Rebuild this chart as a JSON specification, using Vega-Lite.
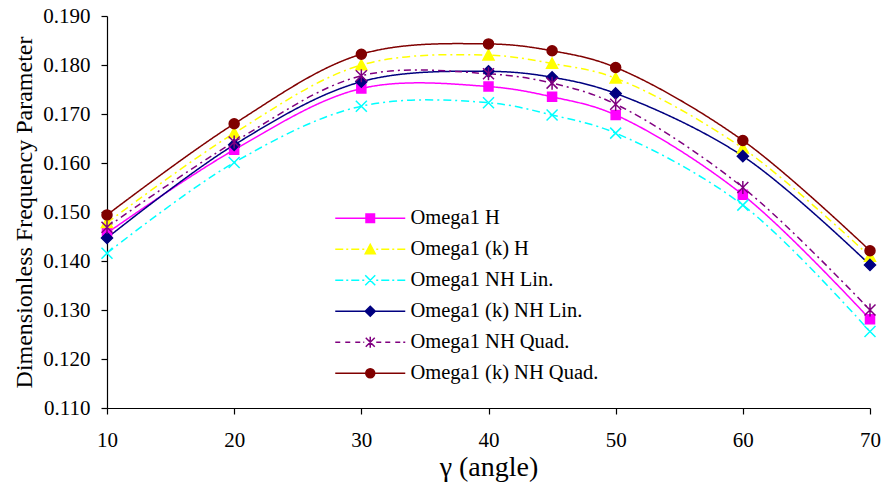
{
  "$schema": "https://vega.github.io/schema/vega-lite/v6.json",
  "width": 763,
  "height": 392,
  "autosize": "none",
  "padding": {"left": 107, "top": 16, "right": 12, "bottom": 85},
  "background": "white",
  "config": {
    "view": {"stroke": null},
    "font": "Liberation Serif",
    "axis": {
      "grid": false,
      "domainColor": "black",
      "tickColor": "black",
      "labelColor": "black",
      "titleColor": "black",
      "labelFont": "Liberation Serif",
      "titleFont": "Liberation Serif",
      "labelFontSize": 21,
      "titleFontWeight": "normal",
      "tickSize": 6,
      "domainWidth": 1.2,
      "tickWidth": 1.2
    }
  },
  "data": {
    "values": [
      {"angle": 10, "series": "Omega1 H", "value": 0.1457},
      {"angle": 20, "series": "Omega1 H", "value": 0.1627},
      {"angle": 30, "series": "Omega1 H", "value": 0.1752},
      {"angle": 40, "series": "Omega1 H", "value": 0.1756},
      {"angle": 45, "series": "Omega1 H", "value": 0.1735},
      {"angle": 50, "series": "Omega1 H", "value": 0.1698},
      {"angle": 60, "series": "Omega1 H", "value": 0.1535},
      {"angle": 70, "series": "Omega1 H", "value": 0.1281},
      {"angle": 10, "series": "Omega1 (k) H", "value": 0.1478},
      {"angle": 20, "series": "Omega1 (k) H", "value": 0.1661},
      {"angle": 30, "series": "Omega1 (k) H", "value": 0.1800},
      {"angle": 40, "series": "Omega1 (k) H", "value": 0.1820},
      {"angle": 45, "series": "Omega1 (k) H", "value": 0.1803},
      {"angle": 50, "series": "Omega1 (k) H", "value": 0.1773},
      {"angle": 60, "series": "Omega1 (k) H", "value": 0.1630},
      {"angle": 70, "series": "Omega1 (k) H", "value": 0.1409},
      {"angle": 10, "series": "Omega1 NH Lin.", "value": 0.1416},
      {"angle": 20, "series": "Omega1 NH Lin.", "value": 0.1601},
      {"angle": 30, "series": "Omega1 NH Lin.", "value": 0.1716},
      {"angle": 40, "series": "Omega1 NH Lin.", "value": 0.1723},
      {"angle": 45, "series": "Omega1 NH Lin.", "value": 0.1698},
      {"angle": 50, "series": "Omega1 NH Lin.", "value": 0.1661},
      {"angle": 60, "series": "Omega1 NH Lin.", "value": 0.1514},
      {"angle": 70, "series": "Omega1 NH Lin.", "value": 0.1256},
      {"angle": 10, "series": "Omega1 (k) NH Lin.", "value": 0.1447},
      {"angle": 20, "series": "Omega1 (k) NH Lin.", "value": 0.1637},
      {"angle": 30, "series": "Omega1 (k) NH Lin.", "value": 0.1766},
      {"angle": 40, "series": "Omega1 (k) NH Lin.", "value": 0.1787},
      {"angle": 45, "series": "Omega1 (k) NH Lin.", "value": 0.1775},
      {"angle": 50, "series": "Omega1 (k) NH Lin.", "value": 0.1742},
      {"angle": 60, "series": "Omega1 (k) NH Lin.", "value": 0.1614},
      {"angle": 70, "series": "Omega1 (k) NH Lin.", "value": 0.1392},
      {"angle": 10, "series": "Omega1 NH Quad.", "value": 0.1469},
      {"angle": 20, "series": "Omega1 NH Quad.", "value": 0.1643},
      {"angle": 30, "series": "Omega1 NH Quad.", "value": 0.1778},
      {"angle": 40, "series": "Omega1 NH Quad.", "value": 0.1782},
      {"angle": 45, "series": "Omega1 NH Quad.", "value": 0.1763},
      {"angle": 50, "series": "Omega1 NH Quad.", "value": 0.1720},
      {"angle": 60, "series": "Omega1 NH Quad.", "value": 0.1550},
      {"angle": 70, "series": "Omega1 NH Quad.", "value": 0.1300},
      {"angle": 10, "series": "Omega1 (k) NH Quad.", "value": 0.1494},
      {"angle": 20, "series": "Omega1 (k) NH Quad.", "value": 0.1680},
      {"angle": 30, "series": "Omega1 (k) NH Quad.", "value": 0.1822},
      {"angle": 40, "series": "Omega1 (k) NH Quad.", "value": 0.1843},
      {"angle": 45, "series": "Omega1 (k) NH Quad.", "value": 0.1829},
      {"angle": 50, "series": "Omega1 (k) NH Quad.", "value": 0.1795},
      {"angle": 60, "series": "Omega1 (k) NH Quad.", "value": 0.1646},
      {"angle": 70, "series": "Omega1 (k) NH Quad.", "value": 0.1421}
    ]
  },
  "encoding": {
    "x": {
      "field": "angle",
      "type": "quantitative",
      "scale": {"domain": [10, 70], "nice": false, "zero": false},
      "axis": {
        "values": [10, 20, 30, 40, 50, 60, 70],
        "title": "γ (angle)",
        "titleFontSize": 28,
        "labelPadding": 15,
        "titlePadding": 3,
        "labelFlush": false
      }
    },
    "y": {
      "field": "value",
      "type": "quantitative",
      "scale": {"domain": [0.11, 0.19], "nice": false, "zero": false},
      "axis": {
        "values": [0.11, 0.12, 0.13, 0.14, 0.15, 0.16, 0.17, 0.18, 0.19],
        "format": ".3f",
        "title": "Dimensionless Frequency Parameter",
        "titleFontSize": 24,
        "labelPadding": 11,
        "titlePadding": 6
      }
    }
  },
  "resolve": {"scale": {"shape": "independent", "fill": "independent", "stroke": "independent"}},
  "layer": [
    {
      "mark": {"type": "line", "interpolate": "catmull-rom", "strokeWidth": 1.5},
      "encoding": {
        "color": {
          "field": "series",
          "type": "nominal",
          "scale": {
            "domain": ["Omega1 H", "Omega1 (k) H", "Omega1 NH Lin.", "Omega1 (k) NH Lin.", "Omega1 NH Quad.", "Omega1 (k) NH Quad."],
            "range": ["#FF00FF", "#FFFF00", "#00FFFF", "#000080", "#800080", "#800000"]
          },
          "legend": null
        },
        "strokeDash": {
          "field": "series",
          "type": "nominal",
          "scale": {
            "domain": ["Omega1 H", "Omega1 (k) H", "Omega1 NH Lin.", "Omega1 (k) NH Lin.", "Omega1 NH Quad.", "Omega1 (k) NH Quad."],
            "range": [[1, 0], [8, 4, 2, 4], [8, 4, 2, 4], [1, 0], [7, 4, 2, 4], [1, 0]]
          },
          "legend": null
        }
      }
    },
    {
      "mark": {"type": "point", "size": 100, "strokeWidth": 1.5, "opacity": 1, "fillOpacity": 1},
      "encoding": {
        "fill": {
          "field": "series",
          "type": "nominal",
          "scale": {
            "domain": ["Omega1 H", "Omega1 (k) H", "Omega1 NH Lin.", "Omega1 (k) NH Lin.", "Omega1 NH Quad.", "Omega1 (k) NH Quad."],
            "range": ["#FF00FF", "#FFFF00", "#00FFFF", "#000080", "#800080", "#800000"]
          },
          "legend": null
        },
        "stroke": {
          "field": "series",
          "type": "nominal",
          "scale": {
            "domain": ["Omega1 H", "Omega1 (k) H", "Omega1 NH Lin.", "Omega1 (k) NH Lin.", "Omega1 NH Quad.", "Omega1 (k) NH Quad."],
            "range": ["#FF00FF", "#FFFF00", "#00FFFF", "#000080", "#800080", "#800000"]
          },
          "legend": null
        },
        "shape": {
          "field": "series",
          "type": "nominal",
          "scale": {
            "domain": ["Omega1 H", "Omega1 (k) H", "Omega1 NH Lin.", "Omega1 (k) NH Lin.", "Omega1 NH Quad.", "Omega1 (k) NH Quad."],
            "range": [
              "M-0.9,-0.9H0.9V0.9H-0.9Z",
              "M0,-1.1L1.1,0.95H-1.1Z",
              "M-1.1,-1.1L1.1,1.1M-1.1,1.1L1.1,-1.1",
              "M0,-1.1L1.1,0L0,1.1L-1.1,0Z",
              "M-1.1,-1.1L1.1,1.1M-1.1,1.1L1.1,-1.1M0,-1.3V1.3",
              "circle"
            ]
          },
          "legend": null
        }
      }
    },
    {
      "transform": [{"filter": "datum.angle > 1000"}],
      "mark": {"type": "point", "size": 100, "strokeWidth": 1.5, "opacity": 1, "fillOpacity": 1},
      "encoding": {
        "fill": {
          "field": "series",
          "type": "nominal",
          "scale": {
            "domain": ["Omega1 H", "Omega1 (k) H", "Omega1 NH Lin.", "Omega1 (k) NH Lin.", "Omega1 NH Quad.", "Omega1 (k) NH Quad."],
            "range": ["#FF00FF", "#FFFF00", "#00FFFF", "#000080", "#800080", "#800000"]
          },
          "legend": {
            "title": null,
            "orient": "none",
            "legendX": 253,
            "legendY": 192,
            "padding": 0,
            "labelFont": "Liberation Serif",
            "labelFontSize": 20.5,
            "labelColor": "black",
            "labelOffset": 30,
            "rowPadding": 10,
            "symbolSize": 100,
            "symbolStrokeWidth": 1.5,
            "symbolOpacity": 1,
            "labelLimit": 400
          }
        },
        "stroke": {
          "field": "series",
          "type": "nominal",
          "scale": {
            "domain": ["Omega1 H", "Omega1 (k) H", "Omega1 NH Lin.", "Omega1 (k) NH Lin.", "Omega1 NH Quad.", "Omega1 (k) NH Quad."],
            "range": ["#FF00FF", "#FFFF00", "#00FFFF", "#000080", "#800080", "#800000"]
          },
          "legend": {
            "title": null,
            "orient": "none",
            "legendX": 253,
            "legendY": 192,
            "padding": 0,
            "labelFont": "Liberation Serif",
            "labelFontSize": 20.5,
            "labelColor": "black",
            "labelOffset": 30,
            "rowPadding": 10,
            "symbolSize": 100,
            "symbolStrokeWidth": 1.5,
            "symbolOpacity": 1,
            "labelLimit": 400
          }
        },
        "shape": {
          "field": "series",
          "type": "nominal",
          "scale": {
            "domain": ["Omega1 H", "Omega1 (k) H", "Omega1 NH Lin.", "Omega1 (k) NH Lin.", "Omega1 NH Quad.", "Omega1 (k) NH Quad."],
            "range": [
              "M-7,0H7M-0.85,-0.85H0.85V0.85H-0.85Z",
              "M-7,0H-5.4M-4.8,0H-4.4M-3.8,0H-2.2M-1.6,0H-1.2M1.2,0H1.6M2.2,0H3.8M4.4,0H4.8M5.4,0H7M0,-1L1,0.9H-1Z",
              "M-7,0H-5.4M-4.8,0H-4.4M-3.8,0H-2.2M-1.6,0H-1.2M1.2,0H1.6M2.2,0H3.8M4.4,0H4.8M5.4,0H7M-1,-1L1,1M-1,1L1,-1",
              "M-7,0H7M0,-1L1,0L0,1L-1,0Z",
              "M-7,0H-6M-5,0H-4M-3,0H-2M-1.4,0H-1.2M1.2,0H2.2M3,0H4M5,0H6M6.6,0H7M-0.9,-0.9L0.9,0.9M-0.9,0.9L0.9,-0.9M0,-1.1V1.1",
              "M-7,0H7M0.9,0A0.9,0.9 0 1,1 -0.9,0A0.9,0.9 0 1,1 0.9,0Z"
            ]
          },
          "legend": {
            "title": null,
            "orient": "none",
            "legendX": 253,
            "legendY": 192,
            "padding": 0,
            "labelFont": "Liberation Serif",
            "labelFontSize": 20.5,
            "labelColor": "black",
            "labelOffset": 30,
            "rowPadding": 10,
            "symbolSize": 100,
            "symbolStrokeWidth": 1.5,
            "symbolOpacity": 1,
            "labelLimit": 400
          }
        }
      }
    }
  ]
}
